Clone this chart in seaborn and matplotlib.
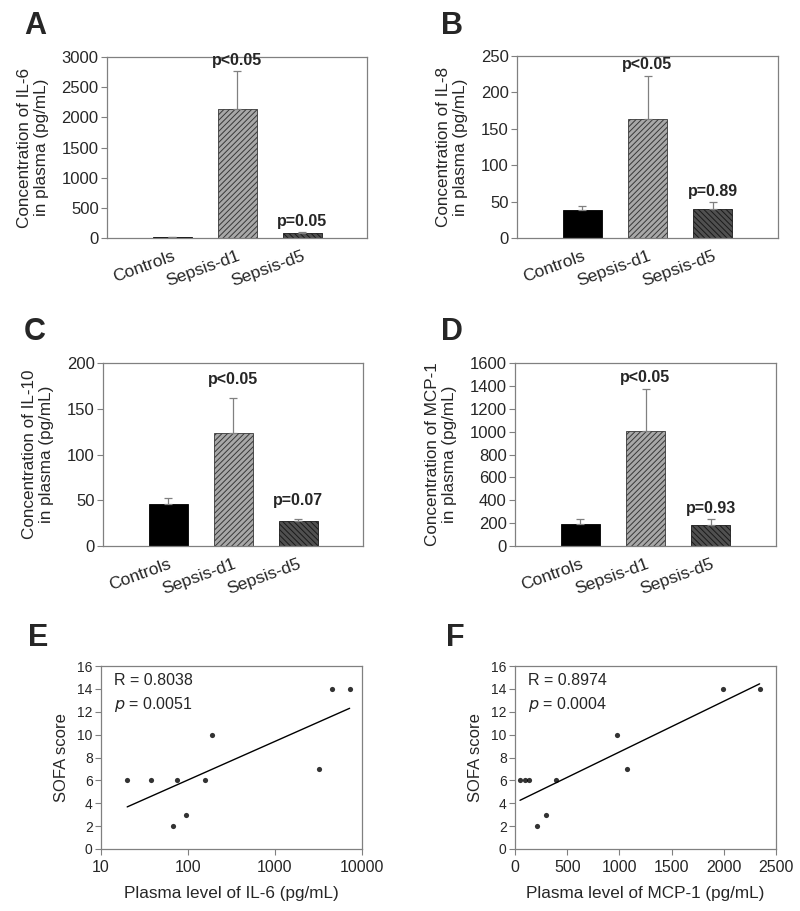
import matplotlib
matplotlib.use("Agg")
import matplotlib.pyplot as plt
import seaborn as sns
import numpy as np
import pandas as pd

# bar panels: mean and upper error (pg/mL)
groups = ["Controls", "Sepsis-d1", "Sepsis-d5"]
il6_mean = [15, 2145, 77]
il6_err = [5, 617, 18]
il8_mean = [38, 164, 40]
il8_err = [6, 59, 9]
il10_mean = [46, 123, 27.5]
il10_err = [6, 39, 2.5]
mcp1_mean = [188, 1008, 182]
mcp1_err = [46, 369, 52]
il6_p = ["p<0.05", "p=0.05"]
il8_p = ["p<0.05", "p=0.89"]
il10_p = ["p<0.05", "p=0.07"]
mcp1_p = ["p<0.05", "p=0.93"]

# scatter panels: plasma level vs SOFA score
sofa = [6, 6, 6, 6, 2, 3, 10, 7, 14, 14]
il6_level = [20, 38, 74, 156, 67, 94, 189, 3230, 4510, 7210]
mcp1_level = [48, 96, 131, 390, 208, 300, 981, 1077, 1988, 2343]

sns.set_style("white")
plt.rcParams["font.family"] = ["Liberation Sans", "DejaVu Sans"]
plt.rcParams["hatch.linewidth"] = 0.7

GREY = "#808080"
W, H = 800, 911
fig = plt.figure(figsize=(W / 100, H / 100), dpi=100)


def px_axes(left, top, right, bottom):
    return fig.add_axes([left / W, 1 - bottom / H, (right - left) / W, (bottom - top) / H])


def style_axes(ax):
    for s in ax.spines.values():
        s.set_color(GREY)
        s.set_linewidth(0.9)
        s.set_visible(True)


def bar_panel(ax, means, errs, plabels, ymax, step, ylabel, pad):
    df = pd.DataFrame({"group": groups, "value": means})
    sns.barplot(data=df, x="group", y="value", ax=ax, width=0.6, color="black", errorbar=None)
    faces = ["black", "#a8a8a8", "#505050"]
    hatches = [None, "//////", "\\\\\\\\\\\\"]
    edges = ["black", "#383838", "#1a1a1a"]
    for patch, fc, h, ec in zip(ax.patches, faces, hatches, edges):
        patch.set_facecolor(fc)
        patch.set_edgecolor(ec)
        patch.set_linewidth(0.6)
        if h:
            patch.set_hatch(h)
    x = np.arange(len(groups))
    ax.errorbar(x, means, yerr=[np.zeros(3), errs], fmt="none", ecolor=GREY,
                elinewidth=0.9, capsize=3, capthick=0.9)
    for i, lab in zip([1, 2], plabels):
        ax.text(i, means[i] + errs[i] + pad * ymax, lab, ha="center", va="center",
                fontsize=11.5, fontweight="bold",
                family=["Liberation Sans Narrow", "Liberation Sans", "DejaVu Sans"])
    ax.set_xlim(-1, 3)
    ax.set_ylim(0, ymax)
    ax.set_yticks(np.arange(0, ymax + 1, step))
    ax.set_xlabel("")
    ax.set_ylabel(ylabel, fontsize=12.3, linespacing=1.2, labelpad=9)
    ax.tick_params(axis="y", labelsize=12, left=True, length=4, color=GREY, width=0.8, pad=2)
    ax.tick_params(axis="x", bottom=False, labelsize=12.5, pad=4)
    for t in ax.get_xticklabels():
        t.set_rotation(20)
        t.set_ha("right")
        t.set_rotation_mode("anchor")
    style_axes(ax)


def scatter_panel(ax, xvals, label, rtext, ptext, logx):
    sns.regplot(x=xvals, y=sofa, ax=ax, logx=logx, ci=None, color="black",
                scatter_kws={"s": 14, "linewidths": 0},
                line_kws={"linewidth": 1.0})
    ax.set_ylim(0, 16)
    ax.set_yticks(range(0, 17, 2))
    ax.set_ylabel("SOFA score", fontsize=12, labelpad=6)
    ax.set_xlabel(label, fontsize=12.3, labelpad=8)
    ax.tick_params(axis="y", labelsize=10, left=True, length=4, color=GREY, width=0.8, pad=2)
    ax.tick_params(axis="x", labelsize=11.5, bottom=True, length=4, color=GREY, width=0.8, pad=4)
    ax.text(0.05, 0.96, rtext, transform=ax.transAxes, fontsize=11.5, va="top")
    ax.text(0.05, 0.84, "$\\it{p}$" + ptext, transform=ax.transAxes, fontsize=11.5, va="top")
    style_axes(ax)


ax_a = px_axes(107, 57, 367, 238)
bar_panel(ax_a, il6_mean, il6_err, il6_p, 3000, 500, "Concentration of IL-6\nin plasma (pg/mL)", 0.06)
ax_b = px_axes(517, 56, 778, 238)
bar_panel(ax_b, il8_mean, il8_err, il8_p, 250, 50, "Concentration of IL-8\nin plasma (pg/mL)", 0.06)
ax_c = px_axes(103, 363, 363, 546)
bar_panel(ax_c, il10_mean, il10_err, il10_p, 200, 50, "Concentration of IL-10\nin plasma (pg/mL)", 0.10)
ax_d = px_axes(515, 363, 776, 546)
bar_panel(ax_d, mcp1_mean, mcp1_err, mcp1_p, 1600, 200, "Concentration of MCP-1\nin plasma (pg/mL)", 0.06)

ax_e = px_axes(101, 666, 362, 849)
scatter_panel(ax_e, il6_level, "Plasma level of IL-6 (pg/mL)", "R = 0.8038", " = 0.0051", True)
ax_e.set_xscale("log")
ax_e.set_xlim(10, 10000)
ax_e.set_xticks([10, 100, 1000, 10000])
ax_e.set_xticklabels(["10", "100", "1000", "10000"])
ax_e.minorticks_off()

ax_f = px_axes(515, 666, 776, 849)
scatter_panel(ax_f, mcp1_level, "Plasma level of MCP-1 (pg/mL)", "R = 0.8974", " = 0.0004", False)
ax_f.set_xlim(0, 2500)
ax_f.set_xticks(range(0, 2501, 500))

for letter, x, y in [("A", 24, 11), ("B", 441, 11), ("C", 24, 317), ("D", 441, 317),
                     ("E", 28, 623), ("F", 446, 623)]:
    fig.text(x / W, 1 - y / H, letter, fontsize=22, fontweight="bold", va="top", ha="left")

fig.savefig("out.png", dpi=100, facecolor="white")
